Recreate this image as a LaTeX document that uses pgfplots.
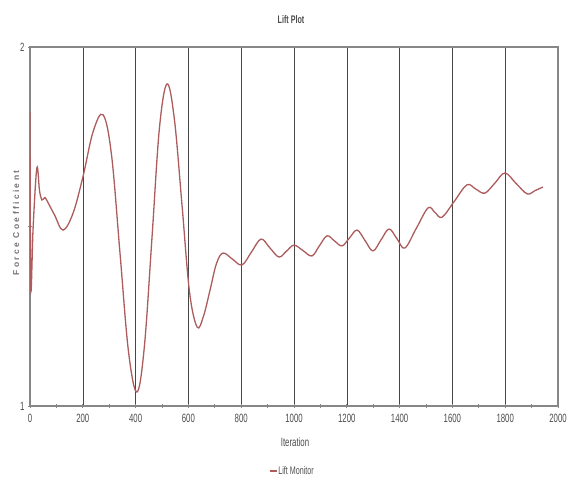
\documentclass[border=0pt]{standalone}
\usepackage{pgfplots}
\pgfplotsset{compat=1.18}
\usepackage{fontspec}
\setmainfont{Liberation Sans}
\newfontfamily\narrowfont[FakeStretch=0.65]{Liberation Sans}
\definecolor{liftred}{RGB}{172,92,92}
\definecolor{axgray}{RGB}{135,135,135}
\definecolor{gridgray}{RGB}{70,70,70}
\pgfplotstableread{
x y
0 1.82
3 1.33
12 1.50
26 1.663
36 1.60
45 1.574
55 1.580
62 1.575
93 1.532
125 1.490
163 1.537
201 1.640
239 1.764
277 1.811
309 1.698
341 1.425
373 1.152
405 1.039
433 1.164
462 1.468
490 1.772
519 1.897
547 1.798
576 1.558
604 1.319
633 1.220
657 1.250
682 1.323
706 1.396
731 1.426
767 1.409
803 1.393
839 1.429
875 1.465
909 1.440
943 1.415
971 1.431
1000 1.448
1034 1.433
1068 1.418
1096 1.446
1125 1.474
1153 1.460
1182 1.446
1210 1.468
1239 1.490
1269 1.461
1299 1.432
1329 1.462
1360 1.493
1390 1.466
1420 1.440
1464 1.496
1508 1.552
1534 1.539
1561 1.526
1608 1.571
1655 1.616
1689 1.604
1723 1.593
1761 1.621
1799 1.649
1841 1.620
1883 1.591
1913 1.600
1943 1.610
}\lift
\begin{document}
\begin{tikzpicture}[x=1pt,y=1pt]
\path[use as bounding box] (0,0) rectangle (578,482);
\begin{axis}[
  at={(30pt,76pt)}, anchor=south west,
  scale only axis, width=528pt, height=359pt,
  xmin=0, xmax=2000, ymin=1, ymax=2,
  xtick={0,200,...,2000}, minor x tick num=1,
  ytick={1,2}, minor ytick={1.5},
  xmajorgrids, grid style={gridgray, line width=0.6pt},
  axis line style={axgray, line width=1.3pt},
  tick style={axgray, line width=0.8pt},
  major tick length=4pt, minor tick length=4pt,
  tick align=center,
  xtick pos=bottom, ytick pos=left,
  /pgf/number format/assume math mode=true,
  /pgf/number format/1000 sep={},
  ticklabel style={font=\narrowfont\fontsize{12}{13}\selectfont, text=black!70},
  xticklabel style={yshift=-3pt},
  legend style={at={(0.496,-0.181)}, anchor=center, draw=none, fill=none,
    font=\narrowfont\fontsize{11}{12}\selectfont, text=black!70,
    inner sep=0pt, nodes={inner sep=1pt}},
  legend image code/.code={\draw[#1] (0pt,0pt) -- (7pt,0pt);},
]
\addplot[liftred, line width=1.3pt, smooth, tension=0.6] table[x=x,y=y]{\lift};
\addlegendentry{Lift Monitor}
\end{axis}
\node[font=\narrowfont\fontsize{11}{12}\selectfont\bfseries, text=black!70] at (291,462) {Lift Plot};
\node[font=\narrowfont\fontsize{12}{13}\selectfont, text=black!70] at (295,40) {Iteration};
\node[font=\fontsize{8.5}{9}\selectfont\bfseries, text=black!55, rotate=90] at (16,259) {F o r c e\ \ C o e f f i c i e n t};
\end{tikzpicture}
\end{document}
